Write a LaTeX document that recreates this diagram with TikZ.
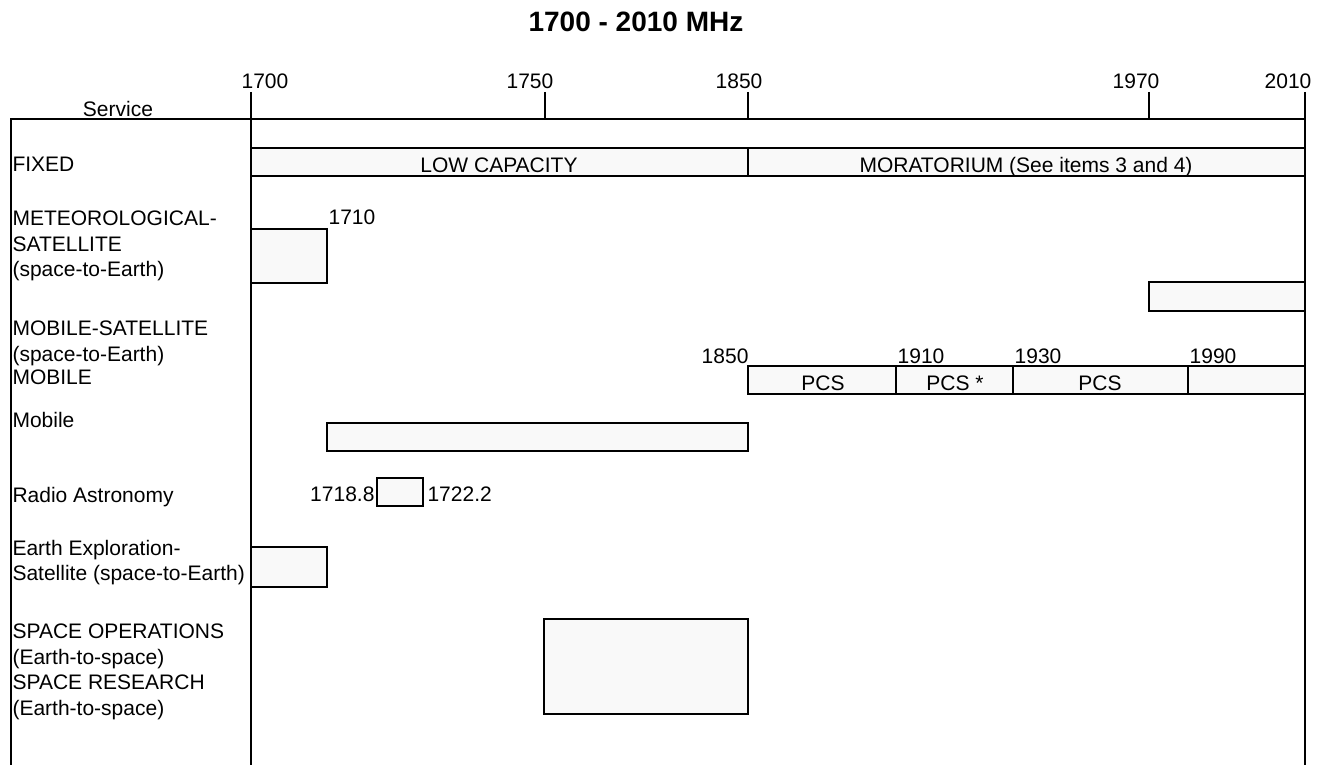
\documentclass[tikz,border=0pt]{standalone}
\usepackage{fontspec}
\setmainfont{Liberation Sans}
\definecolor{bandfill}{HTML}{F9F9F9}
\tikzset{band/.style={draw,fill=bandfill},
  svc/.style={anchor=north west,align=left,inner xsep=1pt,inner ysep=0pt,font=\fontsize{21}{25.5}\selectfont},
  num/.style={inner sep=0pt,font=\fontsize{21}{25}\selectfont}}
\begin{document}
\begin{tikzpicture}[x=1pt,y=-1pt,line width=1.1pt]
\useasboundingbox (0,0) rectangle (1325,765);
\node[inner sep=0pt,font=\fontsize{28}{32}\selectfont\bfseries] (title) at (636,22) {1700 - 2010 MHz};
% frame, axis and ticks
\draw (11,765)--(11,119)--(1305,119); \draw (251,92)--(251,765); \draw (1305,92)--(1305,765);
\foreach \x in {545,748,1149} \draw (\x,92)--(\x,119);
\node[num] (t1700) at (265,81){1700}; \node[num] (t1750) at (530,81){1750}; \node[num] (t1850) at (739,81){1850};
\node[num] (t1970) at (1136,81){1970}; \node[num] (t2010) at (1288,81){2010};
\node[num] (service) at (118,109){Service};
% service names
\node[svc] (fixed) at (11,156.5){FIXED};
\node[svc] (metsat) at (11,210.5){METEOROLOGICAL-\\SATELLITE\\(space-to-Earth)};
\node[svc] (mobsat) at (11,320.5){MOBILE-SATELLITE\\(space-to-Earth)};
\node[svc] (mobile) at (11,369.5){MOBILE};
\node[svc] (mobsec) at (11,411.5){Mobile};
\node[svc] (radast) at (11,486.5){Radio Astronomy};
\node[svc] (eesat) at (11,539.5){Earth Exploration-\\Satellite (space-to-Earth)};
\node[svc] (spaceops) at (11,623.5){SPACE OPERATIONS\\(Earth-to-space)\\SPACE RESEARCH\\(Earth-to-space)};
% FIXED
\draw[band] (251,148) rectangle (1305,176); \draw (748,148)--(748,176); \draw[line width=2.2pt] (251,176)--(1305,176);
\node[num,anchor=base] (lowcap) at (499,172){LOW CAPACITY}; \node[num,anchor=base] (morat) at (1026,172){MORATORIUM (See items 3 and 4)};
% METEOROLOGICAL-SATELLITE and MOBILE-SATELLITE
\draw[band] (251,229) rectangle (327,283); \node[num] (f1710) at (352,217){1710};
\draw[band] (1149,282) rectangle (1305,311);
% MOBILE
\draw[band] (748,366) rectangle (1305,394);
\foreach \x in {896,1013,1188} \draw (\x,366)--(\x,394);
\node[num,anchor=east] (m1850) at (749,356){1850}; \node[num] (m1910) at (921,356){1910};
\node[num] (m1930) at (1038,356){1930}; \node[num] (m1990) at (1213,356){1990};
\node[num] (pcsa) at (823,383){PCS}; \node[num] (pcsb) at (955,383){PCS *}; \node[num] (pcsc) at (1100,383){PCS};
% Mobile
\draw[band] (327,423) rectangle (748,451); \draw[line width=2.2pt] (377,451)--(748,451);
% Radio Astronomy
\draw[band] (377,478) rectangle (423,506);
\node[num,anchor=east] (r1718) at (375,494){1718.8}; \node[num,anchor=west] (r1722) at (427,494){1722.2};
% Earth Exploration-Satellite
\draw[band] (251,547) rectangle (327,587);
% SPACE OPERATIONS / SPACE RESEARCH
\draw[band] (544,619) rectangle (748,714);
\end{tikzpicture}
\end{document}
